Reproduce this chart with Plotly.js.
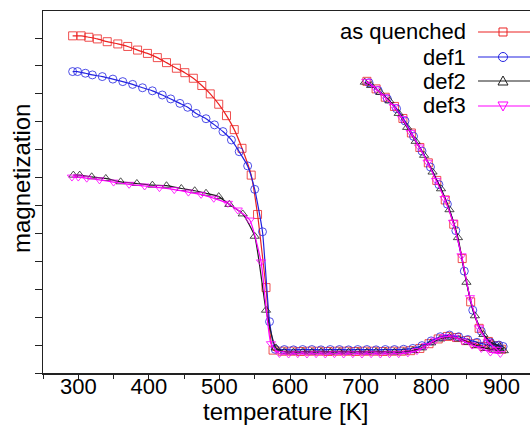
<!DOCTYPE html>
<html>
<head>
<meta charset="utf-8">
<script src="https://cdn.plot.ly/plotly-3.0.1.min.js"></script>
<style>
html,body{margin:0;padding:0;overflow:hidden;background:#fff;}
#chart{width:545px;height:431px;}
</style>
</head>
<body>
<div id="chart"></div>
<script>
// ---- data ----
const seriesNames = ["as quenched", "def1", "def2", "def3"];

const T_aq = [292,304,315,327,341,356,370,384,398,412,425,439,451,463,475,487,499,510,521,532,545,554,566,576,
  589,602,615,628,641,654,667,680,693,706,719,732,745,758,771,784,797,810,823,836,849,862,875,888,900,
  893,881,868,856,844,832,820,808,796,784,772,760,748,735,722,709];
const M_aq = [11.08,11.08,11.03,10.97,10.87,10.79,10.70,10.57,10.45,10.30,10.12,9.92,9.76,9.56,9.30,9.00,8.63,8.22,7.72,7.05,6.09,4.68,2.06,-0.18,
  -0.22,-0.22,-0.23,-0.22,-0.22,-0.23,-0.22,-0.22,-0.23,-0.22,-0.22,-0.23,-0.22,-0.22,-0.20,-0.12,0.05,0.22,0.31,0.27,0.16,0.05,-0.05,-0.12,-0.15,
  -0.02,0.13,0.60,1.55,3.10,4.33,5.20,5.90,6.53,7.08,7.60,8.12,8.55,8.88,9.18,9.45];

const T_d1 = [292,299,310,320,334,349,363,377,391,405,419,431,444,455,467,481,493,505,517,528,540,550,561,571,579,
  592,605,618,631,644,657,670,683,696,709,722,735,748,761,774,787,800,813,826,839,852,865,878,891,902,
  896,884,871,859,847,835,823,811,799,787,775,763,751,738,725,712];
const M_d1 = [9.80,9.80,9.74,9.68,9.62,9.53,9.44,9.34,9.22,9.11,8.96,8.82,8.66,8.52,8.30,8.11,7.89,7.65,7.35,6.93,6.42,5.58,4.06,0.84,-0.15,
  -0.16,-0.17,-0.16,-0.16,-0.17,-0.16,-0.16,-0.17,-0.16,-0.16,-0.17,-0.16,-0.16,-0.15,-0.12,-0.02,0.15,0.30,0.36,0.30,0.20,0.10,0.02,-0.03,-0.05,
  0.00,0.10,0.50,1.25,2.65,4.10,5.05,5.75,6.38,6.95,7.48,8.03,8.47,8.82,9.12,9.40];

const T_d2 = [293,302,319,339,360,383,405,425,446,465,481,499,514,533,550,566,580,
  592,605,618,631,644,657,670,683,696,709,722,735,748,761,774,787,800,813,826,839,852,865,878,891,903,
  897,886,874,862,850,838,826,814,802,790,778,766,754,741,728,715,706];
const M_d2 = [6.09,6.09,6.03,5.97,5.85,5.79,5.73,5.71,5.61,5.53,5.44,5.32,5.04,4.70,3.90,1.25,-0.10,
  -0.24,-0.25,-0.24,-0.25,-0.24,-0.25,-0.24,-0.25,-0.24,-0.25,-0.24,-0.24,-0.25,-0.24,-0.20,-0.10,0.08,0.22,0.28,0.22,0.10,-0.02,-0.12,-0.18,-0.20,
  -0.05,0.08,0.38,1.05,2.25,3.85,4.85,5.60,6.20,6.80,7.30,7.80,8.30,8.75,9.05,9.30,9.42];

const T_d3 = [291,300,312,330,350,372,394,415,436,456,474,492,512,526,543,559,573,
  585,598,611,624,637,650,663,676,689,702,715,728,741,754,767,780,793,806,819,832,845,858,871,884,898,
  893,880,868,855,843,831,819,807,795,783,771,759,747,734,721,708];
const M_d3 = [6.02,6.02,5.98,5.92,5.84,5.76,5.70,5.64,5.57,5.48,5.40,5.26,5.08,4.84,4.48,2.98,0.05,
  -0.30,-0.32,-0.31,-0.32,-0.31,-0.32,-0.31,-0.32,-0.31,-0.32,-0.31,-0.32,-0.31,-0.31,-0.28,-0.20,-0.02,0.18,0.30,0.28,0.15,0.00,-0.12,-0.25,-0.30,
  -0.15,0.12,0.62,1.70,3.20,4.40,5.25,5.90,6.55,7.10,7.62,8.12,8.55,8.90,9.20,9.45];

const xTickVals = [300,400,500,600,700,800,900];
const xTickText = ["300","400","500","600","700","800","900"];

// ---- styles ----
const colors = ["rgb(235,35,35)", "rgb(35,35,225)", "rgb(30,30,30)", "rgb(255,0,255)"];
const symbols = ["square-open", "circle-open", "triangle-up-open", "triangle-down-open"];
const Ts = [T_aq, T_d1, T_d2, T_d3];
const Ms = [M_aq, M_d1, M_d2, M_d3];

const traces = seriesNames.map((n, i) => ({
  type: "scatter", mode: "lines+markers", name: n,
  x: Ts[i], y: Ms[i],
  line: {color: colors[i], width: 1.2, shape: "spline", smoothing: 0.5},
  marker: {symbol: symbols[i], size: 8, color: colors[i], opacity: 0.8, line: {width: 1, color: colors[i]}},
  showlegend: false
}));

// manual legend (text right-aligned, sample on the right)
const legY = [0.942, 0.8729, 0.8066, 0.7376];
const legTextX = 0.8603, legLineX0 = 0.8806, legMarkX = 0.9312;
const annotations = seriesNames.map((n, i) => ({
  text: n, xref: "paper", yref: "paper", x: legTextX, y: legY[i],
  xanchor: "right", yanchor: "middle", showarrow: false,
  font: {family: "Liberation Sans, Arial, sans-serif", size: 22, color: "#000"}
}));
annotations.push({
  text: "temperature [K]", xref: "paper", yref: "paper", x: (285.5-43)/494, y: -(411-373)/362,
  xanchor: "center", yanchor: "middle", showarrow: false,
  font: {family: "Liberation Sans, Arial, sans-serif", size: 24, color: "#000"}
});
annotations.push({
  text: "magnetization", xref: "paper", yref: "paper", x: -(43-22)/494, y: 1-(179-11)/362,
  xanchor: "center", yanchor: "middle", showarrow: false, textangle: -90,
  font: {family: "Liberation Sans, Arial, sans-serif", size: 24, color: "#000"}
});

const shapes = [];
seriesNames.forEach((n, i) => {
  shapes.push({type: "line", xref: "paper", yref: "paper", x0: legLineX0, x1: 1.0, y0: legY[i], y1: legY[i],
    line: {color: colors[i], width: 1.2}});
});
const mk = {xref: "paper", yref: "paper", xsizemode: "pixel", ysizemode: "pixel"};
shapes.push(Object.assign({}, mk, {type: "rect", xanchor: legMarkX, yanchor: legY[0], x0: -4, x1: 4, y0: -4, y1: 4,
  line: {color: colors[0], width: 1}, fillcolor: "rgba(0,0,0,0)"}));
shapes.push(Object.assign({}, mk, {type: "circle", xanchor: legMarkX, yanchor: legY[1], x0: -4.5, x1: 4.5, y0: -4.5, y1: 4.5,
  line: {color: colors[1], width: 1}, fillcolor: "rgba(0,0,0,0)"}));
shapes.push(Object.assign({}, mk, {type: "path", xanchor: legMarkX, yanchor: legY[2], path: "M -5,-4 L 5,-4 L 0,5 Z",
  line: {color: colors[2], width: 1}, fillcolor: "rgba(0,0,0,0)"}));
shapes.push(Object.assign({}, mk, {type: "path", xanchor: legMarkX, yanchor: legY[3], path: "M -5,4 L 5,4 L 0,-5 Z",
  line: {color: colors[3], width: 1}, fillcolor: "rgba(0,0,0,0)"}));

const layout = {
  width: 545, height: 431,
  margin: {l: 43, r: 8, t: 11, b: 58},
  paper_bgcolor: "#fff", plot_bgcolor: "#fff",
  font: {family: "Liberation Sans, Arial, sans-serif", size: 22, color: "#000"},
  xaxis: {
    range: [250, 950], showgrid: false, zeroline: false,
    showline: true, linecolor: "#222", linewidth: 1.5, mirror: true,
    ticks: "outside", ticklen: 4, tickwidth: 1, tickcolor: "#222",
    tickvals: xTickVals, ticktext: xTickText, ticklabelstandoff: -11,
    minor: {dtick: 50, tick0: 250, ticks: "outside", ticklen: 4, tickwidth: 1, tickcolor: "#222"},
    tickfont: {size: 22}
  },
  yaxis: {
    range: [-1, 11.97], showgrid: false, zeroline: false,
    showline: true, linecolor: "#222", linewidth: 1.5, mirror: true,
    ticks: "outside", ticklen: 7, tickwidth: 1, tickcolor: "#222",
    tick0: 0, dtick: 1, showticklabels: false
  },
  annotations: annotations,
  shapes: shapes
};

Plotly.newPlot("chart", traces, layout, {displayModeBar: false, staticPlot: true});
</script>
</body>
</html>
